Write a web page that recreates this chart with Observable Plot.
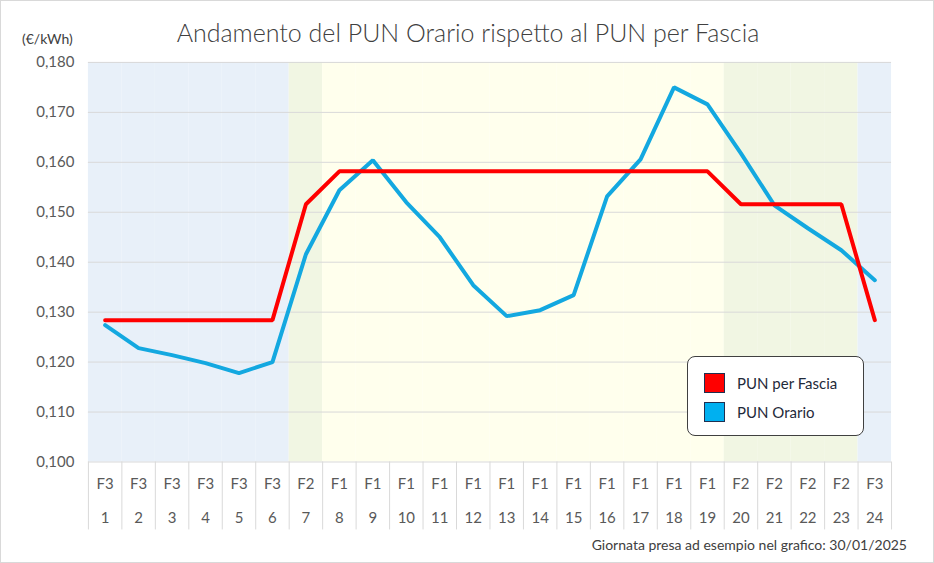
<!DOCTYPE html>
<html>
<head>
<meta charset="utf-8">
<script src="https://cdn.jsdelivr.net/npm/d3@7"></script>
<script src="https://cdn.jsdelivr.net/npm/@observablehq/plot@0.6"></script>
<style>
  html, body { margin: 0; padding: 0; background: #fff; }
  #wrap { position: relative; width: 934px; height: 563px; font-family: Lato, "Open Sans", sans-serif; box-sizing: border-box; border: 1px solid #d9d9d9; overflow: hidden; }
  #chart { position: absolute; left: -1px; top: -1px; }
  .title { position: absolute; left: 0; width: 934px; top: 16px; text-align: center; font-size: 25px; font-weight: 300; color: #404040; }
  .unit { position: absolute; left: 21px; top: 29px; font-size: 14px; color: #404040; }
  .foot { position: absolute; right: 26px; top: 535px; font-size: 14px; color: #404040; }
  .legend { position: absolute; left: 686px; top: 355px; width: 177px; height: 80px; box-sizing: border-box; border: 1px solid #404040; border-radius: 8px; background: #fff; }
  .item { position: absolute; left: 16px; display: flex; align-items: center; font-size: 15px; color: #1f2a3a; }
  .sw { width: 21px; height: 20px; box-sizing: border-box; border: 1px solid #203050; margin-right: 12px; }
</style>
</head>
<body>
<div id="wrap">
  <div id="chart"></div>
  <div class="title">Andamento del PUN Orario rispetto al PUN per Fascia</div>
  <div class="unit">(€/kWh)</div>
  <div class="legend">
    <div class="item" style="top:16px"><div class="sw" style="background:#FF0000"></div>PUN per Fascia</div>
    <div class="item" style="top:45px"><div class="sw" style="background:#00B0F0"></div>PUN Orario</div>
  </div>
  <div class="foot">Giornata presa ad esempio nel grafico: 30/01/2025</div>
</div>
<script>
const hours = [1,2,3,4,5,6,7,8,9,10,11,12,13,14,15,16,17,18,19,20,21,22,23,24];
const fasce = ["F3","F3","F3","F3","F3","F3","F2","F1","F1","F1","F1","F1","F1","F1","F1","F1","F1","F1","F1","F2","F2","F2","F2","F3"];
const punFascia = [0.1284,0.1284,0.1284,0.1284,0.1284,0.1284,0.1516,0.1582,0.1582,0.1582,0.1582,0.1582,0.1582,0.1582,0.1582,0.1582,0.1582,0.1582,0.1582,0.1516,0.1516,0.1516,0.1516,0.1284];
const punOrario = [0.1274,0.1228,0.1214,0.1198,0.1178,0.1200,0.1416,0.1544,0.1604,0.1520,0.1450,0.1354,0.1292,0.1304,0.1334,0.1532,0.1606,0.1750,0.1716,0.1618,0.1514,0.1468,0.1424,0.1364];
const yTicks = [0.10,0.11,0.12,0.13,0.14,0.15,0.16,0.17,0.18];
const bandColors = {F1: "#FFFFED", F2: "#F1F6E3", F3: "#E8F0F9"};

const W = 934, H = 563, mL = 88, mR = 42, mT = 62, mB = 101;
const bw = (W - mL - mR) / hours.length;
const rows = hours.map((h, i) => ({h, f: fasce[i], pf: punFascia[i], po: punOrario[i]}));
const fmt = d => d3.format(".3f")(d).replace(".", ",");
const yDom = [0.10, 0.18];
const yBelow = 0.10 - (68 / (H - mT - mB)) * (yDom[1] - yDom[0]);

const plot = Plot.plot({
  width: W, height: H,
  marginLeft: mL, marginRight: mR, marginTop: mT, marginBottom: mB,
  style: {fontFamily: "Lato, 'Open Sans', sans-serif", background: "transparent"},
  x: {type: "band", domain: hours, padding: 0, round: false, axis: null},
  y: {domain: yDom, axis: null},
  color: {type: "identity"},
  marks: [
    Plot.barY(rows, {x: "h", y1: yDom[0], y2: yDom[1], fill: d => bandColors[d.f], inset: 0}),
    Plot.gridY(yTicks, {stroke: "#d9d9d9", strokeOpacity: 1, strokeWidth: 1}),
    Plot.axisY(yTicks, {tickSize: 0, tickPadding: 14, tickFormat: fmt, fontSize: 15, fill: "#595959"}),
    Plot.ruleX(rows, {x: "h", y1: yDom[0], y2: yBelow, dx: -bw / 2, stroke: "#d9d9d9"}),
    Plot.ruleX(rows.slice(-1), {x: "h", y1: yDom[0], y2: yBelow, dx: bw / 2, stroke: "#d9d9d9"}),
    Plot.text(rows, {x: "h", y: yDom[0], dy: 22, text: "f", fontSize: 15, fill: "#595959"}),
    Plot.text(rows, {x: "h", y: yDom[0], dy: 56, text: d => String(d.h), fontSize: 15, fill: "#595959"}),
    Plot.line(rows, {x: "h", y: "po", stroke: "#13A8E0", strokeWidth: 4, strokeLinejoin: "miter"}),
    Plot.line(rows, {x: "h", y: "pf", stroke: "#FF0000", strokeWidth: 4, strokeLinejoin: "miter"})
  ]
});
document.getElementById("chart").appendChild(plot);
</script>
</body>
</html>
